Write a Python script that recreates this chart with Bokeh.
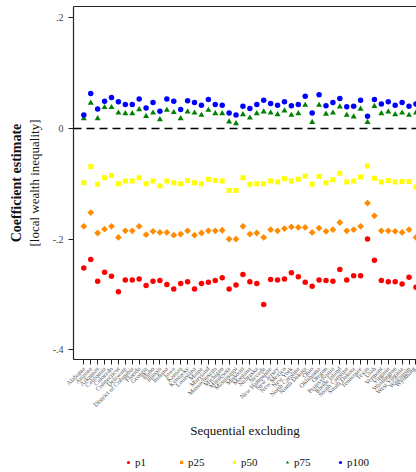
import math
from bokeh.plotting import figure
from bokeh.layouts import column
from bokeh.models import (Range1d, FixedTicker, LinearAxis, Span, Legend, LegendItem,
                          Title, CustomJSTickFormatter)
from bokeh.embed import file_html
from bokeh.resources import INLINE

states = ["Alabama", "Arizona", "Arkansas", "California", "Colorado", "Connecticut",
          "Delaware", "District of Columbia", "Florida", "Georgia", "Idaho", "Illinois",
          "Indiana", "Iowa", "Kansas", "Kentucky", "Louisiana", "Maine", "Maryland",
          "Massachusetts", "Michigan", "Minnesota", "Mississippi", "Missouri", "Montana",
          "Nebraska", "Nevada", "New Hampshire", "New Jersey", "New Mexico", "New York",
          "North Carolina", "North Dakota", "Ohio", "Oklahoma", "Oregon", "Pennsylvania",
          "Rhode Island", "South Carolina", "South Dakota", "Tennessee", "Texas", "Utah",
          "Vermont", "Virginia", "Washington", "West Virginia", "Wisconsin", "Wyoming"]

p1 = [-0.252, -0.237, -0.276, -0.260, -0.267, -0.295, -0.274, -0.274, -0.272, -0.284,
      -0.276, -0.275, -0.282, -0.290, -0.280, -0.277, -0.290, -0.280, -0.278, -0.275,
      -0.270, -0.290, -0.283, -0.264, -0.277, -0.280, -0.318, -0.273, -0.274, -0.272,
      -0.261, -0.268, -0.278, -0.285, -0.274, -0.275, -0.276, -0.255, -0.274, -0.266,
      -0.266, -0.200, -0.238, -0.275, -0.277, -0.277, -0.281, -0.269, -0.287]

p25 = [-0.177, -0.152, -0.189, -0.182, -0.177, -0.197, -0.185, -0.185, -0.177, -0.192,
       -0.186, -0.188, -0.188, -0.193, -0.191, -0.185, -0.193, -0.189, -0.185, -0.185,
       -0.184, -0.200, -0.200, -0.177, -0.191, -0.189, -0.197, -0.183, -0.185, -0.181,
       -0.178, -0.179, -0.179, -0.188, -0.180, -0.186, -0.183, -0.170, -0.185, -0.183,
       -0.177, -0.135, -0.158, -0.185, -0.185, -0.186, -0.188, -0.183, -0.197]

p50 = [-0.098, -0.069, -0.101, -0.089, -0.085, -0.100, -0.095, -0.095, -0.089, -0.100,
       -0.095, -0.104, -0.095, -0.098, -0.100, -0.094, -0.098, -0.100, -0.092, -0.094,
       -0.095, -0.112, -0.112, -0.089, -0.101, -0.100, -0.100, -0.095, -0.097, -0.091,
       -0.095, -0.092, -0.086, -0.101, -0.087, -0.098, -0.093, -0.081, -0.097, -0.095,
       -0.088, -0.068, -0.090, -0.097, -0.094, -0.097, -0.096, -0.096, -0.106]

p75 = [0.018, 0.046, 0.018, 0.038, 0.038, 0.028, 0.027, 0.027, 0.034, 0.022,
       0.028, 0.016, 0.033, 0.029, 0.018, 0.030, 0.028, 0.024, 0.033, 0.027,
       0.027, 0.012, 0.009, 0.025, 0.019, 0.027, 0.030, 0.028, 0.025, 0.032,
       0.024, 0.027, 0.042, 0.011, 0.042, 0.026, 0.028, 0.039, 0.024, 0.021,
       0.035, 0.011, 0.040, 0.027, 0.030, 0.025, 0.028, 0.024, 0.028]

p100 = [0.024, 0.063, 0.035, 0.049, 0.056, 0.048, 0.043, 0.043, 0.053, 0.037,
        0.047, 0.031, 0.053, 0.049, 0.034, 0.050, 0.047, 0.042, 0.052, 0.043,
        0.042, 0.028, 0.024, 0.040, 0.036, 0.043, 0.051, 0.045, 0.042, 0.048,
        0.041, 0.043, 0.058, 0.028, 0.061, 0.041, 0.047, 0.054, 0.039, 0.040,
        0.051, 0.022, 0.052, 0.044, 0.048, 0.042, 0.047, 0.040, 0.044]

y_ticks = [-0.4, -0.2, 0.0, 0.2]
x_title = "Sequential excluding"
y_title_bold = "Coefficient estimate"
y_title_sub = "[local wealth inequality]"
series_names = ["p1", "p25", "p50", "p75", "p100"]

xs = list(range(len(states)))
SERIF = "Liberation Serif"

styles = [
    dict(marker="circle", size=5.5, fill_color="#ff0000", line_color=None),
    dict(marker="square", angle=math.pi / 4, size=4.8, fill_color="#ff8c00", line_color=None),
    dict(marker="square", size=5, fill_color="#ffff00", line_color=None),
    dict(marker="triangle", size=6, fill_color="#008000", line_color=None),
    dict(marker="circle", size=5.5, fill_color="#0000ff", line_color=None),
]
series = [p1, p25, p50, p75, p100]

p = figure(width=416, height=445, output_backend="svg", toolbar_location=None,
           x_range=Range1d(-1.49, 48.08), y_range=Range1d(-0.4175, 0.2202),
           min_border_left=73, min_border_right=0, min_border_top=6,
           min_border_bottom=86)
p.outline_line_color = None
p.grid.visible = False
p.background_fill_color = "white"
p.border_fill_color = "white"

# bottom axis
xa = p.xaxis[0]
xa.ticker = FixedTicker(ticks=xs)
xa.major_label_overrides = {i: s for i, s in enumerate(states)}
xa.major_label_orientation = math.pi / 4
xa.major_label_text_font = SERIF
xa.major_label_text_font_size = "6.5px"
xa.major_label_text_color = "#555555"
xa.major_label_standoff = 3
xa.major_tick_in = 0
xa.major_tick_out = 5
xa.major_tick_line_color = "#222222"
xa.minor_tick_line_color = None
xa.axis_line_color = "#222222"
xa.axis_line_width = 1.2
xa.axis_label = x_title
xa.axis_label_text_font = SERIF
xa.axis_label_text_font_size = "13px"
xa.axis_label_text_font_style = "normal"
xa.axis_label_text_color = "#111111"
xa.axis_label_standoff = 10

# left axis
ya = p.yaxis[0]
ya.ticker = FixedTicker(ticks=y_ticks)
ya.formatter = CustomJSTickFormatter(code="""
    if (Math.abs(tick) < 1e-9) { return '0'; }
    const s = tick.toFixed(1);
    return s.replace('0.', '.');
""")
ya.major_label_orientation = "horizontal"
ya.major_label_text_font = SERIF
ya.major_label_text_font_size = "10px"
ya.major_label_text_color = "#444444"
ya.major_label_standoff = 5
ya.major_tick_in = 0
ya.major_tick_out = 5
ya.major_tick_line_color = "#222222"
ya.minor_tick_line_color = None
ya.axis_line_color = "#222222"
ya.axis_line_width = 1.2
ya.axis_label = y_title_sub
ya.axis_label_text_font = SERIF
ya.axis_label_text_font_size = "13px"
ya.axis_label_text_font_style = "normal"
ya.axis_label_text_color = "#111111"
ya.axis_label_standoff = 8

p.add_layout(Title(text=y_title_bold, text_font=SERIF, text_font_size="14px",
                   text_font_style="bold", text_color="#111111", align="center",
                   standoff=0), "left")

# top frame line
top = LinearAxis(ticker=FixedTicker(ticks=[]), major_tick_in=0, major_tick_out=0,
                 minor_tick_in=0, minor_tick_out=0, major_label_text_font_size="0px",
                 major_label_standoff=0, axis_line_color="#222222", axis_line_width=1.2)
p.add_layout(top, "above")

# zero reference line
p.add_layout(Span(location=0, dimension="width", line_color="black",
                  line_width=1.5, line_dash="8 5"))

for vals, st in zip(series, styles):
    p.scatter(xs, vals, **st)

# legend strip below the chart (its renderers sit outside the visible range)
lg = figure(width=416, height=27, output_backend="svg", toolbar_location=None,
            x_range=Range1d(-200, -199), y_range=Range1d(0, 1),
            x_axis_location=None, y_axis_location=None,
            min_border_left=0, min_border_right=0, min_border_top=0, min_border_bottom=0)
lg.outline_line_color = None
lg.grid.visible = False
lg.background_fill_color = "white"
lg.border_fill_color = "white"
leg_renderers = [lg.scatter(xs, vals, **st) for vals, st in zip(series, styles)]

legend = Legend(items=[LegendItem(label=n, renderers=[r]) for n, r in
                       zip(series_names, leg_renderers)],
                orientation="horizontal", location=(51, 4),
                label_text_font=SERIF, label_text_font_size="11px",
                label_text_color="#111111",
                glyph_width=8, glyph_height=12, label_standoff=3,
                label_width=24, label_height=12, spacing=18,
                padding=0, margin=0, border_line_color=None,
                background_fill_alpha=0)
lg.add_layout(legend)

layout = column(p, lg, spacing=0)
open("out.html", "w").write(file_html(layout, INLINE))
